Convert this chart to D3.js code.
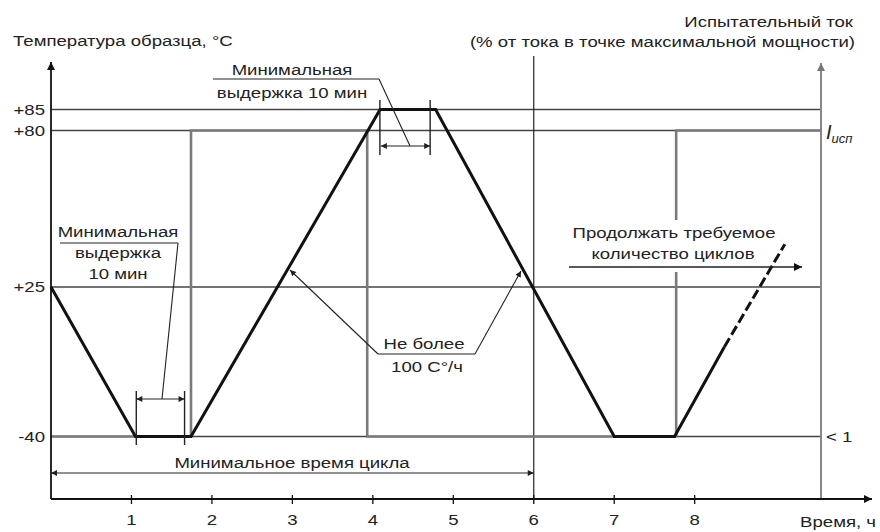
<!DOCTYPE html>
<html><head><meta charset="utf-8">
<script src="https://cdn.jsdelivr.net/npm/d3@7"></script>
<style>
html,body{margin:0;padding:0;background:#fff;}
svg text{font-family:"Liberation Sans",Arial,sans-serif;fill:#222;}
</style>
</head><body>
<svg id="c" width="880" height="532"></svg>
<script>
// ---- data ----
const tempHours   = [0, 1.05, 1.74, 4.09, 4.78, 7.0, 7.75, 8.37];
const tempValues  = [25, -40, -40, 85, 85, -40, -40, -1];
const tempDashHours  = [8.37, 9.12];
const tempDashValues = [-1, 40];
const currentHours  = [0, 1.74, 1.74, 3.93, 3.93, 7.77, 7.77, 9.57];
const currentLevels = [-40, -40, 80, 80, -40, -40, 80, 80];
const yTickValues = [85, 80, 25, -40];
const yTickLabels = ["+85", "+80", "+25", "-40"];
const xTickValues = [1, 2, 3, 4, 5, 6, 7, 8];
const xTickLabels = ["1", "2", "3", "4", "5", "6", "7", "8"];
const cycleEnd = 6;
const holdLow = [1.06, 1.66];
const holdHigh = [4.10, 4.70];

// ---- scales ----
const svg = d3.select("#c");
const x = d3.scaleLinear().domain([0, 9.57]).range([51, 821]);
const y = d3.scaleLinear().domain([-67, -40, 25, 80, 85]).range([499, 436.5, 287, 130.5, 109.5]);
const X0 = x(0), XR = x(9.57), YB = y(-67);
const SX = 1.24; // horizontal stretch of lettering

const defs = svg.append("defs");
function marker(id, w, h, color){
  defs.append("marker").attr("id", id).attr("viewBox", "0 0 10 10")
    .attr("refX", 10).attr("refY", 5).attr("markerWidth", w).attr("markerHeight", h)
    .attr("markerUnits", "userSpaceOnUse").attr("orient", "auto-start-reverse")
    .append("path").attr("d", "M0,0 L10,5 L0,10 Z").attr("fill", color);
}
marker("ax", 13, 8, "#111");
marker("axg", 13, 8, "#777");
marker("dim", 9, 6, "#222");

function label(px, py, str, anchor, size){
  return svg.append("g").attr("transform", `translate(${px},${py}) scale(${SX},1)`)
    .append("text").attr("text-anchor", anchor || "start")
    .style("font-size", (size || 15) + "px").text(str);
}

// reference horizontal lines
svg.append("g").selectAll("line").data(yTickValues).join("line")
  .attr("x1", X0).attr("x2", XR).attr("y1", d => y(d)).attr("y2", d => y(d))
  .attr("stroke", "#444").attr("stroke-width", 1.3);

// y tick labels
svg.append("g").selectAll("g").data(yTickValues).join("g")
  .attr("transform", d => `translate(45,${y(d) + 5}) scale(${SX},1)`)
  .append("text").attr("text-anchor", "end").style("font-size", "15px")
  .text((d, i) => yTickLabels[i]);

// right axis
svg.append("line").attr("x1", XR).attr("x2", XR).attr("y1", YB).attr("y2", 63)
  .attr("stroke", "#888").attr("stroke-width", 2).attr("marker-end", "url(#axg)");

// vertical line at end of cycle
svg.append("line").attr("x1", x(cycleEnd)).attr("x2", x(cycleEnd)).attr("y1", 56).attr("y2", YB)
  .attr("stroke", "#222").attr("stroke-width", 1.2);

// current (gray step)
const line = d3.line().x(d => x(d[0])).y(d => y(d[1]));
svg.append("path").datum(currentHours.map((h, i) => [h, currentLevels[i]]))
  .attr("d", line).attr("fill", "none").attr("stroke", "#7a7a7a").attr("stroke-width", 2.6);

// white box behind "continue" text (breaks current line)
svg.append("rect").attr("x", 575).attr("y", 220).attr("width", 200).attr("height", 52).attr("fill", "#fff");

// temperature profile
svg.append("path").datum(tempHours.map((h, i) => [h, tempValues[i]]))
  .attr("d", line).attr("fill", "none").attr("stroke", "#111").attr("stroke-width", 3)
  .attr("stroke-linejoin", "miter");
svg.append("path").datum(tempDashHours.map((h, i) => [h, tempDashValues[i]]))
  .attr("d", line).attr("fill", "none").attr("stroke", "#111").attr("stroke-width", 3)
  .attr("stroke-dasharray", "10,4");

// axes
svg.append("line").attr("x1", X0).attr("x2", X0).attr("y1", YB).attr("y2", 62)
  .attr("stroke", "#111").attr("stroke-width", 1.8).attr("marker-end", "url(#ax)");
svg.append("line").attr("x1", X0).attr("x2", 872).attr("y1", YB).attr("y2", YB)
  .attr("stroke", "#111").attr("stroke-width", 1.8).attr("marker-end", "url(#ax)");

// x ticks
svg.append("g").selectAll("line").data(xTickValues).join("line")
  .attr("x1", d => x(d)).attr("x2", d => x(d)).attr("y1", YB - 4).attr("y2", YB + 5)
  .attr("stroke", "#111").attr("stroke-width", 1.3);
svg.append("g").selectAll("g").data(xTickValues).join("g")
  .attr("transform", d => `translate(${x(d)},525) scale(${SX},1)`)
  .append("text").attr("text-anchor", "middle").style("font-size", "15px")
  .text((d, i) => xTickLabels[i]);

// axis titles
label(13, 46, "Температура образца, °С");
label(853, 27, "Испытательный ток", "end");
label(855, 47, "(% от тока в точке максимальной мощности)", "end");
label(876, 527, "Время, ч", "end");

// I_исп and <1
const it = svg.append("g").attr("transform", "translate(826,139)")
  .append("text").style("font-size", "20px").style("font-style", "italic");
it.append("tspan").text("I");
it.append("tspan").attr("dy", 4).style("font-size", "13px").text("исп");
label(826, 442, "< 1");

// helpers for dimension arrows and leaders
function dim(x1, x2, yy){
  svg.append("line").attr("x1", x1).attr("x2", x2).attr("y1", yy).attr("y2", yy)
    .attr("stroke", "#222").attr("stroke-width", 1.2)
    .attr("marker-start", "url(#dim)").attr("marker-end", "url(#dim)");
}
function seg(x1, y1, x2, y2, w, mk){
  const l = svg.append("line").attr("x1", x1).attr("y1", y1).attr("x2", x2).attr("y2", y2)
    .attr("stroke", "#222").attr("stroke-width", w || 1.1);
  if (mk) l.attr("marker-end", "url(#" + mk + ")");
  return l;
}

// top hold annotation
seg(x(holdHigh[0]) - 1, 100, x(holdHigh[0]) - 1, 155, 1.4);
seg(x(holdHigh[1]) + 1, 100, x(holdHigh[1]) + 1, 155, 1.4);
dim(x(holdHigh[0]), x(holdHigh[1]) + 1, 146);
seg(213, 79, 379, 79, 1.1);
seg(379, 79, 410, 146, 1.1);
label(292, 75, "Минимальная", "middle");
label(292, 98, "выдержка 10 мин", "middle");

// low hold annotation
seg(x(holdLow[0]), 391, x(holdLow[0]), 445, 1.4);
seg(x(holdLow[1]), 391, x(holdLow[1]), 445, 1.4);
dim(x(holdLow[0]), x(holdLow[1]), 399);
seg(60, 243, 178, 243, 1.1);
seg(178, 243, 162, 399, 1.1);
label(118, 237, "Минимальная", "middle");
label(118, 258, "выдержка", "middle");
label(118, 279, "10 мин", "middle");

// rate annotation
seg(378, 354, 475, 354, 1.1);
seg(378, 354, 290, 270, 1.1, "dim");
seg(475, 354, 521, 271, 1.1, "dim");
label(424, 349, "Не более", "middle");
label(427, 372, "100 С°/ч", "middle");

// continue annotation
seg(569, 267, 802, 267, 1.3, "ax");
label(674, 238, "Продолжать требуемое", "middle");
label(673, 259, "количество циклов", "middle");

// cycle time
dim(X0, x(cycleEnd), 473);
label(292, 468, "Минимальное время цикла", "middle");
</script>
</body></html>
